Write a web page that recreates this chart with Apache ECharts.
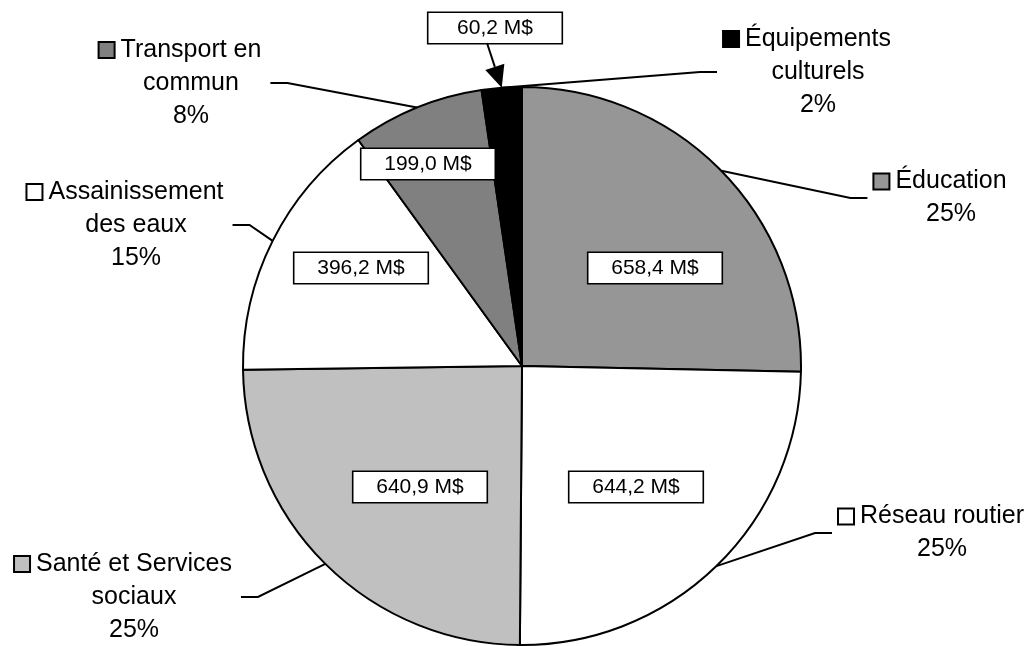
<!DOCTYPE html>
<html>
<head>
<meta charset="utf-8">
<script src="https://cdn.jsdelivr.net/npm/echarts@6/dist/echarts.min.js"></script>
<style>
  html, body { margin: 0; padding: 0; background: #fff; }
  #chart { width: 1031px; height: 646px; }
</style>
</head>
<body>
<div id="chart"></div>
<script>
// Investissements par secteur (M$)
const categories = ['Éducation', 'Réseau routier', 'Santé et Services sociaux',
  'Assainissement des eaux', 'Transport en commun', 'Équipements culturels'];
// category names as they wrap in the callouts
const nameLines = [['Éducation'], ['Réseau routier'], ['Santé et Services', 'sociaux'],
  ['Assainissement', 'des eaux'], ['Transport en', 'commun'], ['Équipements', 'culturels']];
const values = [658.4, 644.2, 640.9, 396.2, 199.0, 60.2];
const fills = ['#969696', '#ffffff', '#c0c0c0', '#ffffff', '#808080', '#000000'];

// callout placement: [centre x, centre y, side of the pie]
const calloutPos = [[951, 198, 'right'], [942, 533, 'right'], [134, 597, 'left'],
  [136, 225, 'left'], [191, 83, 'left'], [818, 72, 'right']];
// value box centres
const valueBoxPos = [[655, 268], [636, 487], [420, 487], [361, 268], [428, 164], [495, 28]];

const CX = 522, CY = 366, R = 279;
const FONT = "'Liberation Sans', Arial, Helvetica, sans-serif";
const fmtValue = v => v.toFixed(1).replace('.', ',') + ' M$';

const pieData = categories.map((name, i) => ({ name, value: values[i], itemStyle: { color: fills[i] } }));

const rich = {
  g: { width: 7 },
  sp: { width: 21 },
  t: { fontSize: 25, lineHeight: 33, fontFamily: FONT, color: '#000' }
};
fills.forEach((c, i) => {
  rich['m' + i] = { width: 14, height: 14, backgroundColor: c, borderColor: '#000', borderWidth: 2 };
});

const chart = echarts.init(document.getElementById('chart'), null, { renderer: 'canvas' });

chart.setOption({
  animation: false,
  backgroundColor: '#ffffff',
  series: [
    {
      type: 'pie',
      center: [CX, CY],
      radius: R,
      startAngle: 90,
      clockwise: true,
      avoidLabelOverlap: false,
      silent: true,
      itemStyle: { borderColor: '#000', borderWidth: 2 },
      label: {
        show: true,
        position: 'outside',
        fontSize: 25,
        lineHeight: 33,
        fontFamily: FONT,
        color: '#000',
        rich: rich,
        formatter: p => {
          const lines = nameLines[p.dataIndex];
          const out = ['{m' + p.dataIndex + '|}{g|}{t|' + lines[0] + '}{sp|}'];
          for (let k = 1; k < lines.length; k++) out.push('{t|' + lines[k] + '}');
          out.push('{t|' + Math.round(p.percent) + '%}');
          return out.join('\n');
        }
      },
      labelLine: { show: true, length: 10, length2: 10, lineStyle: { color: '#000', width: 2 } },
      labelLayout: p => {
        const [x, y, side] = calloutPos[p.dataIndex];
        const w = p.labelRect.width;
        const res = { x, y, align: 'center', verticalAlign: 'middle' };
        if (p.labelLinePoints) {
          const start = p.labelLinePoints[0];
          let end, bend;
          if (side === 'right') { end = [x - w / 2 - 6, y]; bend = [end[0] - 17, y]; }
          else { end = [x + w / 2 - 13, y]; bend = [end[0] + 17, y]; }
          res.labelLinePoints = [start, bend, end];
        }
        return res;
      },
      data: pieData
    },
    {
      type: 'pie',
      center: [CX, CY],
      radius: R,
      startAngle: 90,
      clockwise: true,
      silent: true,
      z: 3,
      itemStyle: { color: 'rgba(0,0,0,0)', borderWidth: 0 },
      label: {
        show: true,
        position: 'inside',
        formatter: p => fmtValue(p.value),
        fontSize: 21,
        fontFamily: FONT,
        color: '#000',
        backgroundColor: '#fff',
        borderColor: '#000',
        borderWidth: 1.6,
        width: 133,
        lineHeight: 22,
        padding: [4, 0, 4, 0],
        align: 'center'
      },
      labelLine: { show: false },
      labelLayout: p => ({
        x: valueBoxPos[p.dataIndex][0],
        y: valueBoxPos[p.dataIndex][1],
        align: 'center',
        verticalAlign: 'middle'
      }),
      data: values.map((v, i) => ({ name: categories[i], value: v }))
    }
  ]
});

// arrow from the small value box down to its slice
(function drawArrow() {
  const idx = values.length - 1;
  const lay = chart.getModel().getSeriesByIndex(0).getData().getItemLayout(idx);
  const mid = (lay.startAngle + lay.endAngle) / 2;
  const tip = [lay.cx + lay.r * Math.cos(mid), lay.cy + lay.r * Math.sin(mid)];
  const box = valueBoxPos[idx];
  const s = [box[0] - 8, box[1] + 15];
  const dx = tip[0] - s[0], dy = tip[1] - s[1];
  const len = Math.hypot(dx, dy);
  const ux = dx / len, uy = dy / len;
  const headLen = 22, halfW = 10;
  const base = [tip[0] - ux * headLen, tip[1] - uy * headLen];
  chart.setOption({
    graphic: [
      { type: 'line', z: 10, shape: { x1: s[0], y1: s[1], x2: base[0], y2: base[1] },
        style: { stroke: '#000', lineWidth: 2 } },
      { type: 'polygon', z: 10, shape: { points: [
          tip,
          [base[0] - uy * halfW, base[1] + ux * halfW],
          [base[0] + uy * halfW, base[1] - ux * halfW]
        ] }, style: { fill: '#000' } }
    ]
  });
})();
</script>
</body>
</html>
